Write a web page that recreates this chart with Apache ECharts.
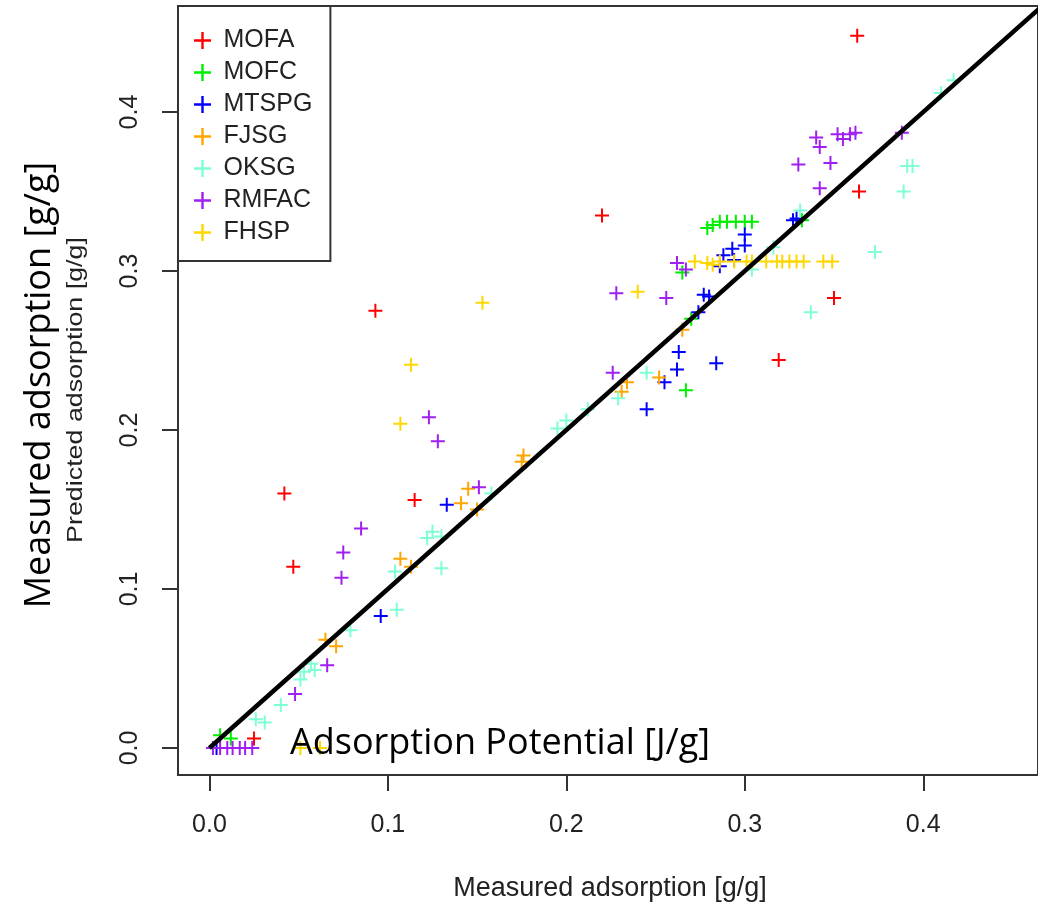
<!DOCTYPE html>
<html>
<head>
<meta charset="utf-8">
<script src="https://cdn.jsdelivr.net/npm/echarts@6/dist/echarts.min.js"></script>
<style>
	html, body { margin: 0; padding: 0; background: #fff; }
	#chartDiv { width: 1038px; height: 904px; }
</style>
</head>
<body>
<div id="chartDiv"></div>
<script>
// measured / predicted pairs
var mofa = [[0.363, 0.448], [0.220, 0.335], [0.093, 0.275], [0.042, 0.160], [0.047, 0.114],
	[0.115, 0.156], [0.364, 0.350], [0.350, 0.283], [0.319, 0.244], [0.025, 0.006]];
var mofc = [[0.006, 0.008], [0.012, 0.006], [0.279, 0.327], [0.282, 0.329], [0.286, 0.331],
	[0.290, 0.331], [0.295, 0.331], [0.300, 0.331], [0.304, 0.331], [0.265, 0.299],
	[0.270, 0.270], [0.267, 0.225], [0.332, 0.332]];
var mtspg = [[0.327, 0.332], [0.329, 0.333], [0.300, 0.323], [0.300, 0.316], [0.293, 0.314],
	[0.294, 0.307], [0.288, 0.310], [0.286, 0.303], [0.277, 0.285], [0.280, 0.284],
	[0.274, 0.274], [0.263, 0.249], [0.262, 0.238], [0.255, 0.230], [0.284, 0.242],
	[0.245, 0.213], [0.133, 0.153], [0.096, 0.083], [0.004, 0.0]];
var fjsg = [[0.145, 0.163], [0.141, 0.154], [0.150, 0.150], [0.107, 0.119], [0.113, 0.114],
	[0.065, 0.068], [0.071, 0.064], [0.176, 0.184], [0.175, 0.180], [0.265, 0.263],
	[0.252, 0.233], [0.234, 0.230], [0.231, 0.224]];
var oksg = [[0.410, 0.412], [0.417, 0.420], [0.391, 0.366], [0.394, 0.366], [0.389, 0.350],
	[0.331, 0.338], [0.373, 0.312], [0.337, 0.274], [0.316, 0.315], [0.304, 0.301],
	[0.245, 0.236], [0.229, 0.220], [0.212, 0.213], [0.200, 0.206], [0.195, 0.201],
	[0.158, 0.160], [0.125, 0.136], [0.122, 0.132], [0.130, 0.133], [0.104, 0.111],
	[0.130, 0.113], [0.105, 0.087], [0.079, 0.074], [0.057, 0.053], [0.053, 0.048],
	[0.051, 0.043], [0.059, 0.049], [0.040, 0.027], [0.026, 0.018], [0.031, 0.016]];
var rmfac = [[0.340, 0.384], [0.342, 0.378], [0.352, 0.386], [0.355, 0.383], [0.359, 0.386],
	[0.362, 0.387], [0.330, 0.367], [0.348, 0.368], [0.342, 0.352], [0.388, 0.387],
	[0.262, 0.305], [0.267, 0.301], [0.228, 0.286], [0.256, 0.283], [0.226, 0.236],
	[0.123, 0.208], [0.128, 0.193], [0.151, 0.164], [0.085, 0.138], [0.075, 0.123],
	[0.074, 0.107], [0.066, 0.052], [0.048, 0.034], [0.002, 0.0], [0.006, 0.0],
	[0.010, 0.0], [0.013, 0.0], [0.017, 0.0], [0.020, 0.0], [0.024, 0.0]];
var fhsp = [[0.153, 0.280], [0.113, 0.241], [0.107, 0.204], [0.240, 0.287], [0.051, 0.0],
	[0.062, 0.0], [0.272, 0.306], [0.279, 0.305], [0.282, 0.304], [0.286, 0.306],
	[0.294, 0.306], [0.301, 0.306], [0.304, 0.306], [0.312, 0.306], [0.318, 0.306],
	[0.321, 0.306], [0.325, 0.306], [0.329, 0.306], [0.333, 0.306], [0.344, 0.306],
	[0.349, 0.306]];
var fitLine = [[0.0, 0.0], [0.5, 0.5]];

var seriesNames = ['MOFA', 'MOFC', 'MTSPG', 'FJSG', 'OKSG', 'RMFAC', 'FHSP'];
var seriesData = [mofa, mofc, mtspg, fjsg, oksg, rmfac, fhsp];
var seriesColors = ['#ff0000', '#00ee00', '#0000ff', '#ffa500', '#7fffd4', '#a020f0', '#ffd700'];
var tickValues = [0, 0.1, 0.2, 0.3, 0.4];

var plusIcon = 'path://M0,6H14V8H0Z M6,0H8V14H6Z';
var labelFont = '"Liberation Sans", Arial, sans-serif';
var bigFont = '"Open Sans", "Noto Sans", sans-serif';

var chart = echarts.init(document.getElementById('chartDiv'));

var series = [];
for (var i = 0; i < seriesNames.length; i++) {
	series.push({
		name: seriesNames[i],
		type: 'scatter',
		data: seriesData[i],
		symbol: plusIcon,
		symbolSize: 14,
		itemStyle: {
			color: seriesColors[i],
			opacity: 1
		},
		animation: false
	});
}
series.push({
	name: 'fit',
	type: 'line',
	data: fitLine,
	symbol: 'none',
	clip: true,
	z: 5,
	lineStyle: {
		color: '#000',
		width: 4.5
	},
	animation: false
});

var option = {
	backgroundColor: '#fff',
	animation: false,
	grid: {
		left: 178,
		right: -3,
		top: 6,
		bottom: 129,
		show: true,
		borderColor: '#333',
		borderWidth: 2,
		backgroundColor: 'transparent'
	},
	xAxis: {
		type: 'value',
		min: -0.0176,
		max: 0.4643,
		axisLine: { show: false, onZero: false },
		splitLine: { show: false },
		axisTick: {
			show: true,
			length: 16,
			customValues: tickValues,
			lineStyle: { color: '#333', width: 2 }
		},
		axisLabel: {
			customValues: tickValues,
			margin: 38,
			color: '#222',
			fontSize: 25,
			fontFamily: labelFont,
			formatter: function (v) { return v.toFixed(1); }
		}
	},
	yAxis: {
		type: 'value',
		min: -0.017,
		max: 0.4667,
		axisLine: { show: false, onZero: false },
		splitLine: { show: false },
		axisTick: {
			show: true,
			length: 16,
			customValues: tickValues,
			lineStyle: { color: '#333', width: 2 }
		},
		axisLabel: {
			customValues: tickValues,
			rotate: 90,
			margin: 35,
			color: '#222',
			fontSize: 25,
			fontFamily: labelFont,
			formatter: function (v) { return v.toFixed(1); }
		}
	},
	legend: {
		data: seriesNames,
		orient: 'vertical',
		left: 178,
		top: 6,
		padding: [22, 18, 16, 16],
		itemWidth: 32,
		itemHeight: 17,
		itemGap: 7,
		icon: plusIcon,
		borderColor: '#333',
		borderWidth: 2,
		backgroundColor: '#fff',
		textStyle: {
			color: '#222',
			fontSize: 25,
			fontFamily: labelFont,
			lineHeight: 25
		}
	},
	graphic: [
		{
			type: 'text',
			x: 610,
			y: 889,
			style: {
				text: 'Measured adsorption [g/g]',
				font: '27px ' + labelFont,
				fill: '#222',
				textAlign: 'center',
				textVerticalAlign: 'middle'
			}
		},
		{
			type: 'text',
			x: 76,
			y: 390,
			rotation: Math.PI / 2,
			scaleX: 1.22,
			style: {
				text: 'Predicted adsorption [g/g]',
				font: '22px ' + labelFont,
				fill: '#222',
				textAlign: 'center',
				textVerticalAlign: 'middle'
			}
		},
		{
			type: 'text',
			x: 40,
			y: 385,
			rotation: Math.PI / 2,
			z: 100,
			style: {
				text: 'Measured adsorption [g/g]',
				font: '36px ' + bigFont,
				fill: '#000',
				textAlign: 'center',
				textVerticalAlign: 'middle'
			}
		},
		{
			type: 'text',
			x: 290,
			y: 744,
			z: 100,
			style: {
				text: 'Adsorption Potential [J/g]',
				font: '36px ' + bigFont,
				fill: '#000',
				textAlign: 'left',
				textVerticalAlign: 'middle'
			}
		}
	],
	series: series
};

chart.setOption(option);
</script>
</body>
</html>
